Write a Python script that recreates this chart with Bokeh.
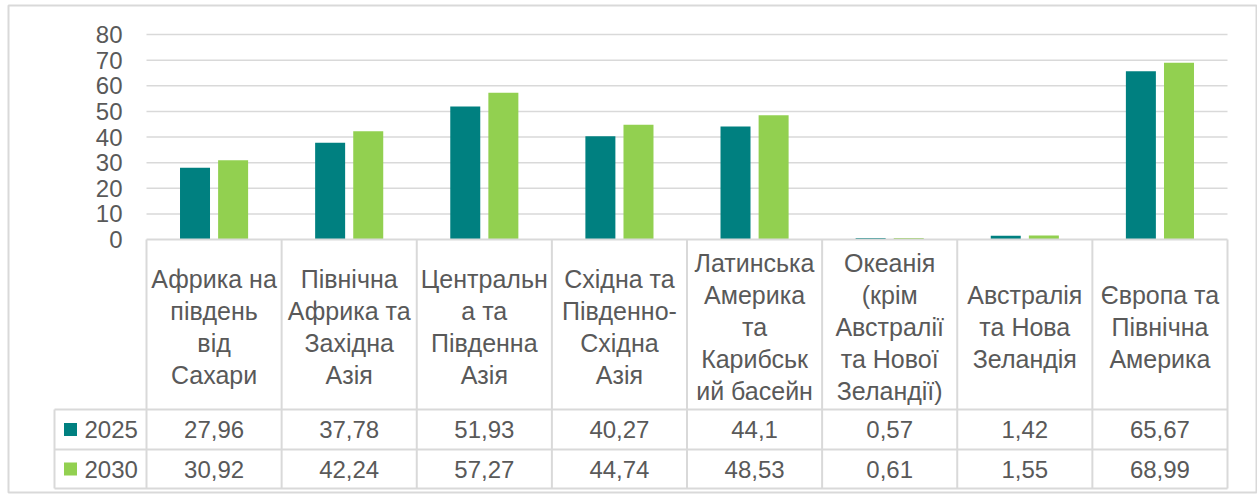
from bokeh.plotting import figure
from bokeh.models import Range1d
from bokeh.embed import file_html
from bokeh.resources import INLINE
from bokeh.core.properties import value

# ---------------- data ----------------
categories = [
    "Африка на\nпівдень\nвід\nСахари",
    "Північна\nАфрика та\nЗахідна\nАзія",
    "Центральн\nа та\nПівденна\nАзія",
    "Східна та\nПівденно-\nСхідна\nАзія",
    "Латинська\nАмерика\nта\nКарибськ\nий басейн",
    "Океанія\n(крім\nАвстралії\nта Нової\nЗеландії)",
    "Австралія\nта Нова\nЗеландія",
    "Європа та\nПівнічна\nАмерика",
]
series_names = ["2025", "2030"]
values_2025 = [27.96, 37.78, 51.93, 40.27, 44.1, 0.57, 1.42, 65.67]
values_2030 = [30.92, 42.24, 57.27, 44.74, 48.53, 0.61, 1.55, 68.99]
y_ticks = [0, 10, 20, 30, 40, 50, 60, 70, 80]
colors = ["#008080", "#92D050"]

# ---------------- layout (page pixels) ----------------
W, H = 1257, 494
FIG_L, FIG_T = 0, 0
PX0 = 146.0          # left of plot area
COLW = 135.125       # column width
PY0 = 239.0          # zero line
PPU = 2.5625         # pixels per value unit
LEG_X = 54.0
CAT_BOT = 409.0
ROW_BOT = [449.0, 488.0]
BOX = (8.0, 5.0, 1256.0, 492.0)
FONT = value("Liberation Sans")
FS = "24px"
FS_CAT = "25px"
TXT = "#595959"
LINE = "#D9D9D9"


def X(px):
    return (px - PX0) / COLW


def Y(py):
    return (PY0 - py) / PPU


n = len(categories)
p = figure(width=W, height=H, output_backend="svg", toolbar_location=None,
           x_range=Range1d(X(FIG_L), X(FIG_L + W)),
           y_range=Range1d(Y(FIG_T + H), Y(FIG_T)),
           x_axis_location=None, y_axis_location=None, min_border=0)
p.grid.visible = False
p.outline_line_color = None
p.background_fill_color = "white"
p.border_fill_color = "white"

# outer chart border
p.quad(left=[X(BOX[0])], right=[X(BOX[2])], top=[Y(BOX[1])], bottom=[Y(BOX[3])],
       fill_color=None, line_color=LINE, line_width=2)

# gridlines
gl = [t for t in y_ticks if t != 0]
p.segment(x0=[0] * len(gl), x1=[n] * len(gl), y0=gl, y1=gl,
          line_color=LINE, line_width=1.5)

# bars
off = 0.141
bw = 0.222
p.vbar(x=[i + 0.5 - off for i in range(n)], top=values_2025, width=bw,
       bottom=0, fill_color=colors[0], line_color=None)
p.vbar(x=[i + 0.5 + off for i in range(n)], top=values_2030, width=bw,
       bottom=0, fill_color=colors[1], line_color=None)

# y tick labels
p.text(x=[X(122)] * len(y_ticks), y=y_ticks, text=[str(t) for t in y_ticks],
       text_align="right", text_baseline="middle", text_font=FONT,
       text_font_size=FS, text_color=TXT)

# table lines
hx0 = [0, X(LEG_X), X(LEG_X), X(LEG_X)]
hy = [Y(PY0), Y(CAT_BOT), Y(ROW_BOT[0]), Y(ROW_BOT[1])]
p.segment(x0=hx0, x1=[n] * 4, y0=hy, y1=hy, line_color=LINE, line_width=2)
vx = list(range(n + 1)) + [X(LEG_X)]
vy0 = [Y(PY0)] * (n + 1) + [Y(CAT_BOT)]
p.segment(x0=vx, x1=vx, y0=vy0, y1=[Y(ROW_BOT[1])] * (n + 2),
          line_color=LINE, line_width=2)

# category labels
lx, ly, lt = [], [], []
cat_mid = 326.0
lh = 32.0
for i, c in enumerate(categories):
    lines = c.split("\n")
    k = len(lines)
    for j, s in enumerate(lines):
        lx.append(i + 0.5)
        ly.append(Y(cat_mid + (j - (k - 1) / 2) * lh))
        lt.append(s)
p.text(x=lx, y=ly, text=lt, text_align="center", text_baseline="middle",
       text_font=FONT, text_font_size=FS_CAT, text_color=TXT)


def fmt(v):
    return ("%g" % v).replace(".", ",")


# table values + legend
row_tops = [CAT_BOT, ROW_BOT[0]]
for r, vals in enumerate([values_2025, values_2030]):
    cy = Y((row_tops[r] + ROW_BOT[r]) / 2)
    p.text(x=[i + 0.5 for i in range(n)], y=[cy] * n,
           text=[fmt(v) for v in vals], text_align="center",
           text_baseline="middle", text_font=FONT, text_font_size=FS,
           text_color=TXT)
    p.scatter(x=[X(70)], y=[cy], marker="square", size=13,
              fill_color=colors[r], line_color=None)
    p.text(x=[X(84)], y=[cy], text=[series_names[r]], text_align="left",
           text_baseline="middle", text_font=FONT, text_font_size=FS,
           text_color=TXT)

open("out.html", "w").write(file_html(p, INLINE))
